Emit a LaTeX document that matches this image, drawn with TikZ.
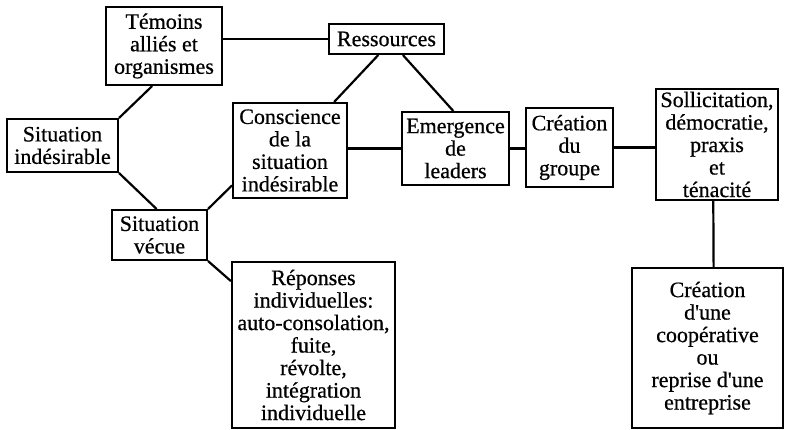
\documentclass[tikz,border=0pt]{standalone}
\usepackage{fontspec}
\setmainfont{Liberation Serif}[FakeBold=0.6]
\usetikzlibrary{calc}
\begin{document}
\begin{tikzpicture}[x=1pt,y=-1pt,
  box/.style={draw=black, line width=2pt, align=center, inner sep=1pt,
    font=\fontsize{22}{22.5}\selectfont, anchor=center},
  link/.style={draw=black, line width=2.2pt}]
\useasboundingbox (0,0) rectangle (785,429);
\node[box, minimum width=116pt, minimum height=78pt] (tem) at (164,46) {Témoins\\alliés et\\organismes};
\node[box, minimum width=115pt, minimum height=30pt] (res) at (386.5,39) {Ressources};
\node[box, minimum width=111pt, minimum height=53pt] (sitind) at (62.5,145.5) {Situation\\indésirable};
\node[box, minimum width=114pt, minimum height=95pt] (con) at (290,150.5) {Conscience\\de la\\situation\\indésirable};
\node[box, minimum width=107pt, minimum height=73pt] (eme) at (455.5,148.5) {Emergence\\de\\leaders};
\node[box, minimum width=87pt, minimum height=79pt] (cre) at (569.5,147.5) {Création\\du\\groupe};
\node[box, minimum width=122pt, minimum height=111pt] (sol) at (717,144.5) {Sollicitation,\\démocratie,\\praxis\\et\\ténacité};
\node[box, minimum width=151pt, minimum height=160pt] (coop) at (707.5,348) {Création\\d\textquotesingle une\\coopérative\\ou\\reprise d\textquotesingle une\\entreprise};
\node[box, minimum width=95pt, minimum height=50pt] (viv) at (159.5,235) {Situation\\vécue};
\node[box, minimum width=163pt, minimum height=166pt] (rep) at (313.5,345) {Réponses\\individuelles:\\auto-consolation,\\fuite,\\révolte,\\intégration\\individuelle};
% connectors
\draw[link] (tem.east |- res.west) -- (res.west);
\draw[link] ($(tem.south west)!0.4!(tem.south east)$) -- (sitind.north east);
\draw[link] (sitind.south east) -- ($(viv.north west)!0.47!(viv.north east)$);
\draw[link] ($(res.south west)!0.43!(res.south east)$) -- ($(con.north west)!0.88!(con.north east)$);
\draw[link] ($(res.south west)!0.64!(res.south east)$) -- ($(eme.north west)!0.48!(eme.north east)$);
\draw[link] (eme.west -| con.east) -- (eme.west);
\draw[link] (eme.east) -- (eme.east -| cre.west);
\draw[link] (cre.east) -- (cre.east -| sol.west);
\draw[link] ($(sol.south west)!0.47!(sol.south east)$) -- ($(coop.north west)!0.54!(coop.north east)$);
\draw[link] (viv.north east) -- ($(con.north west)!0.86!(con.south west)$);
\draw[link] (viv.south east) -- ($(rep.north west)!0.12!(rep.south west)$);
\end{tikzpicture}
\end{document}
